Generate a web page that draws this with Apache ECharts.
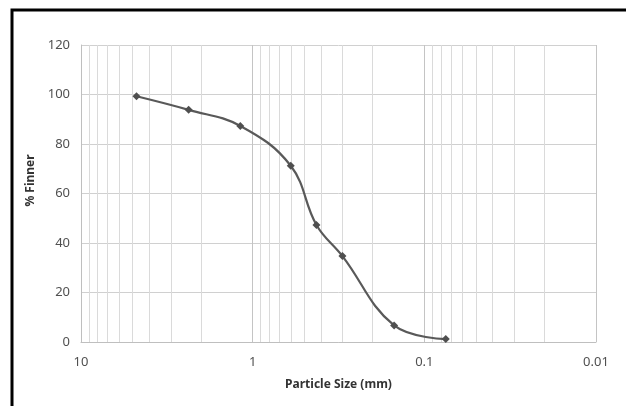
<!DOCTYPE html>
<html style="height: 100%">
<head>
<meta charset="utf-8">
<script src="https://cdn.jsdelivr.net/npm/echarts@6/dist/echarts.min.js"></script>
</head>
<body style="height: 100%; margin: 0; background: #fff">
<div id="container" style="width: 626px; height: 406px"></div>
<script>
// sieve sizes (mm) and percent passing
var sizes = [4.75, 2.36, 1.18, 0.6, 0.425, 0.3, 0.15, 0.075];
var finer = [99.3, 93.8, 87.3, 71.2, 47.3, 34.7, 6.7, 1.2];

// log grid minor lines (2..9 in each decade)
var decades = [0.01, 0.1, 1];
var minorSteps = [2, 3, 4, 5, 6, 7, 8, 9];
var minorLines = [];
decades.forEach(function (d) {
    minorSteps.forEach(function (m) {
        minorLines.push({ xAxis: +(d * m).toPrecision(3) });
    });
});

var txt = '#505050';
var dom = document.getElementById('container');
var myChart = echarts.init(dom, null, { renderer: 'canvas' });

var option = {
    backgroundColor: '#ffffff',
    animation: false,
    grid: { left: 81, right: 30, top: 45, bottom: 64 },
    graphic: [{
        type: 'polyline',
        shape: { points: [[12, 406], [12, 10], [626, 10]] },
        style: { stroke: '#000', lineWidth: 3, fill: null }
    }],
    xAxis: {
        type: 'log',
        logBase: 10,
        min: 0.01,
        max: 10,
        inverse: true,
        name: 'Particle Size (mm)',
        nameLocation: 'middle',
        nameGap: 37,
        nameTextStyle: { fontFamily: 'Noto Sans', fontSize: 12, fontWeight: 'bold', color: '#333' },
        axisLine: { show: true, lineStyle: { color: '#bfbfbf' } },
        axisTick: { show: false },
        axisLabel: {
            fontFamily: 'Noto Sans', fontSize: 13, color: txt, margin: 14,
            formatter: function (v) { return String(+v.toPrecision(3)); }
        },
        splitLine: { show: true, lineStyle: { color: '#c4c4c4', width: 1 } }
    },
    yAxis: {
        type: 'value',
        min: 0,
        max: 120,
        interval: 20,
        name: '% Finner',
        nameLocation: 'middle',
        nameGap: 44,
        nameTextStyle: {
            fontFamily: 'Noto Sans', fontSize: 12, fontWeight: 'bold', color: '#333',
            padding: [0, 0, 0, 26]
        },
        axisLine: { show: true, lineStyle: { color: '#bfbfbf' } },
        axisTick: { show: false },
        axisLabel: { fontFamily: 'Noto Sans', fontSize: 13, color: txt, margin: 11 },
        splitLine: { show: true, lineStyle: { color: '#d0d0d0', width: 1 } }
    },
    series: [{
        type: 'line',
        data: sizes.map(function (s, i) { return [s, finer[i]]; }),
        smooth: 0.4,
        symbol: 'diamond',
        symbolSize: 8,
        showAllSymbol: true,
        lineStyle: { color: '#595959', width: 2.2 },
        itemStyle: { color: '#4f4f4f' },
        markLine: {
            silent: true,
            symbol: ['none', 'none'],
            label: { show: false },
            lineStyle: { color: '#dadada', width: 1, type: 'solid' },
            data: minorLines,
            z: 1
        }
    }]
};

myChart.setOption(option);
</script>
</body>
</html>
